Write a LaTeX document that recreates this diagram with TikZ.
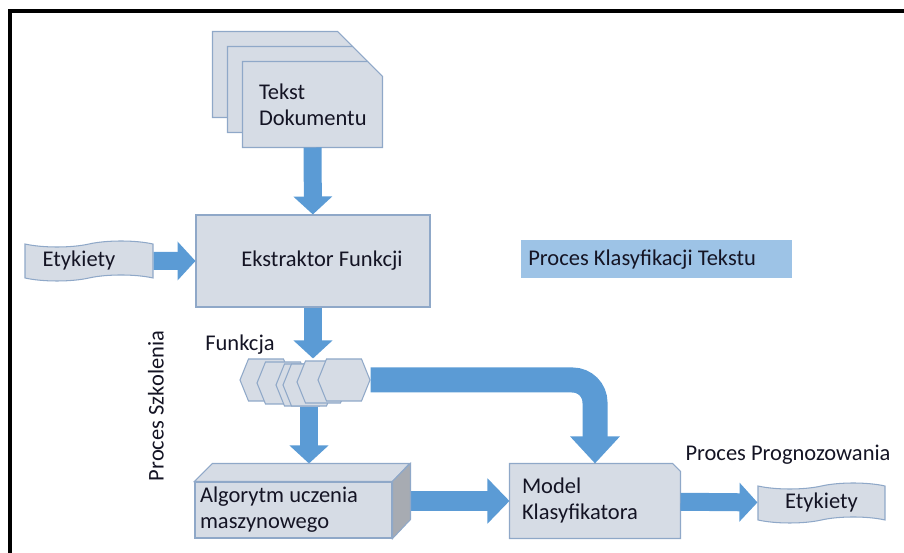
\documentclass[tikz,border=0pt]{standalone}
\usepackage{fontspec}
\setmainfont{Carlito}
\usetikzlibrary{arrows.meta,positioning,calc,shapes.symbols,backgrounds}
\definecolor{Flow}{HTML}{5B9BD5}
\definecolor{Box}{HTML}{D6DCE5}
\definecolor{Edge}{HTML}{8FA8C8}
\definecolor{Side}{HTML}{A7ABB2}
\definecolor{Tag}{HTML}{9DC3E6}
\definecolor{Ink}{HTML}{141424}
\tikzset{
  >=Latex,
  lab/.style={font=\fontsize{12.8}{14.8}\selectfont,text=Ink,inner sep=0pt},
  base/.style={lab,fill=Box,draw=Edge,line width=.6pt},
  blk/.style={base,rectangle},
  txt/.style={blk,draw=none,fill=none,align=flush left},
  hexa/.style={base,signal,signal from=nowhere,signal to=east and west,signal pointer angle=136,minimum width=1.04cm,minimum height=.84cm},
  wave/.style={base,tape,tape bend top=in and out,tape bend bottom=in and out,tape bend height=.12cm,minimum width=2.56cm,minimum height=.8cm},
  flow/.style={draw=Flow,line width=.36cm,-{Triangle[length=.36cm,width=.76cm]}},
  bigflow/.style={flow,line width=.5cm,-{Triangle[length=.54cm,width=.96cm]},rounded corners=.45cm},
  frame/.style={draw=black,line width=.08cm}
}
\begin{document}
\begin{tikzpicture}[x=.02cm,y=-.02cm]
    \useasboundingbox (0,0) rectangle (904,553);
    \draw[frame] (10,553) -- (10,11) -- (904,11);
    \node[txt,minimum width=2.78cm,minimum height=1.7cm,text width=2.14cm] (doc) at (312.5,104.5) {Tekst\\Dokumentu};
    \node[blk,minimum width=4.68cm,minimum height=1.84cm] (ekstr) at (313,261) {\hspace*{.36cm}Ekstraktor Funkcji};
    \node[wave] (etyk) at (89,261) {Etykiety\hspace*{.4cm}};
    \node[lab,fill=Tag,minimum width=5.42cm,minimum height=.76cm,text width=5.14cm,inner xsep=.14cm,align=flush left,anchor=north west] (klas) at (521,240) {Proces Klasyfikacji Tekstu};
    \node[lab,rotate=90] (szk) at (156,406) {Proces Szkolenia};
    \node[lab] (fun) at (240,345) {Funkcja};
    \foreach \x/\y [count=\i] in {266/380,283/383,302/385,309/385,323/382,344/380}
      \node[hexa] (h\i) at (\x,\y) {};
    \node[blk,minimum width=3.94cm,minimum height=1.12cm,text width=3.74cm,align=flush left] (algo) at (293.5,510) {Algorytm uczenia\\maszynowego};
    \coordinate (algotop) at ($(algo.north)+(0,-18)$);
    \node[txt,minimum width=3.4cm,minimum height=1.48cm,inner xsep=.24cm,text width=2.92cm] (model) at (595,501) {Model\\Klasyfikatora};
    \node[lab] (prog) at (788,455) {Proces Prognozowania};
    \node[wave,minimum width=2.54cm] (etyk2) at (821.5,503) {Etykiety};
    \begin{scope}[on background layer]
      \foreach \d in {30,15,0}
        \draw[base] ([shift={(-\d,-\d)}]doc.south west) -- ([shift={(-\d,-\d)}]doc.north west)
          -- ([shift={(-\d-15,-\d)}]doc.north east) -- ([shift={(-\d,-\d+15)}]doc.north east)
          -- ([shift={(-\d,-\d)}]doc.south east) -- cycle;
      \draw[base] (model.south west) -- (model.north west) -- ([shift={(-8,0)}]model.north east)
        -- ([shift={(0,8)}]model.north east) -- (model.south east) -- cycle;
    \end{scope}
    \draw[flow] (doc) -- (ekstr);
    \draw[flow] (etyk) -- (ekstr);
    \draw[flow] (ekstr) -- (ekstr |- h6.north);
    \draw[flow] (h4.south) -- (h4.south |- algotop);
    \draw[bigflow] (h6.east) -| (model.north);
    \draw[flow,line width=.4cm,-{Triangle[length=.44cm,width=.88cm]}] (algo.east |- model.west) -- (model.west);
    \draw[base] (algo.north west) -- ++(18,-18) -- ++(197,0) -- (algo.north east) -- cycle;
    \draw[base,fill=Side] (algo.north east) -- ++(18,-18) -- ++(0,56) -- (algo.south east) -- cycle;
    \draw[flow] (model) -- (etyk2);
  \end{tikzpicture}
\end{document}
